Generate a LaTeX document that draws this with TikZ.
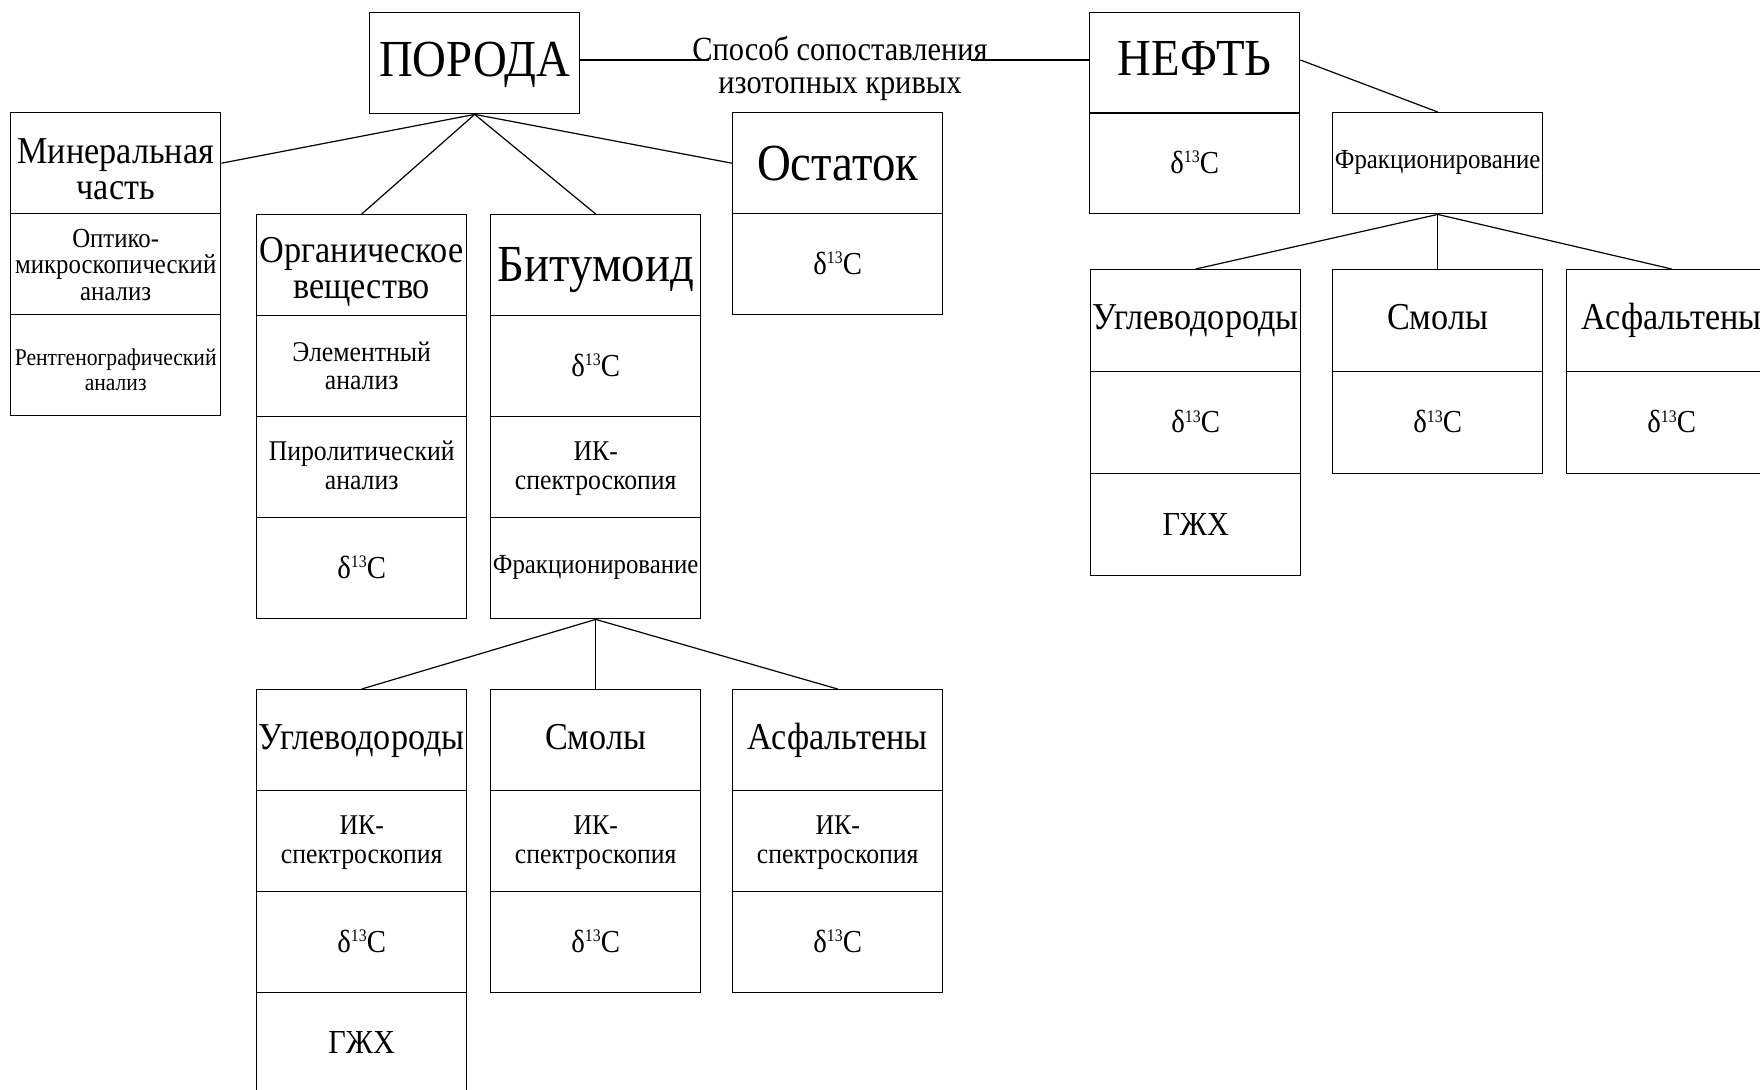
\documentclass[tikz,border=0pt]{standalone}
\usepackage{fontspec}
\setmainfont{Liberation Serif}[FakeStretch=0.9]
\newcommand\szA{\fontsize{26}{26}\selectfont}
\newcommand\szB{\fontsize{19}{18}\selectfont}
\newcommand\szC{\fontsize{16}{16}\selectfont}
\newcommand\szG{\fontsize{16.8}{16.8}\selectfont}
\newcommand\szD{\fontsize{13.8}{13.2}\selectfont}
\newcommand\szM{\fontsize{14.3}{14.3}\selectfont}
\newcommand\szE{\fontsize{12}{12.5}\selectfont}
\newcommand\szF{\fontsize{13.8}{13.8}\selectfont}
\newcommand\szL{\fontsize{16.9}{16.8}\selectfont}
% #1: distance of the first baseline below the cell centre
\newcommand\tx[2]{\rule[\dimexpr#1pt-10pt\relax]{0pt}{20pt}\smash{\begin{tabular}[t]{@{}c@{}}#2\end{tabular}}}
\newcommand\dC{\tx{5}{δ\raisebox{5.3pt}{\fontsize{8.8}{8.8}\selectfont 13}C}}
\begin{document}
\begin{tikzpicture}[x=0.5pt,y=-0.5pt,
  cell/.style={draw, line width=0.7pt, minimum width=105pt, minimum height=50.5pt,
    inner sep=0pt, align=center, anchor=north west},
  cellR/.style={cell, minimum height=51pt},
  conn/.style={line width=0.6pt},
  lab/.style={fill=white, inner ysep=0pt, inner xsep=-8.5pt, font=\szL}]
\clip (0,0) rectangle (1760,1089);
\fill[white] (0,0) rectangle (1760,1089);
% top
\node[cell,font=\szA] (poroda) at (369,12) {\tx{6.7}{ПОРОДА}};
\node[cell,font=\szA] (neft1) at (1089,12) {\tx{6.3}{НЕФТЬ}};
\node[cell,font=\szC] (neft2) at (1089,112) {\dC};
\node[cell,font=\szF] (frac) at (1332,112) {\tx{2.8}{Фракционирование}};
% mineral part
\node[cell,font=\szB] (min1) at (10,112) {\tx{0}{Минеральная\\часть}};
\node[cell,font=\szD] (min2) at (10,213) {\tx{-8.6}{Оптико-\\микроскопический\\анализ}};
\node[cell,font=\szE] (min3) at (10,314) {\tx{0}{Рентгенографический\\анализ}};
% organic matter
\node[cell,font=\szB] (org1) at (256,214) {\tx{-1.6}{Органическое\\вещество}};
\node[cell,font=\szM] (org2) at (256,315) {\tx{-2.6}{Элементный\\анализ}};
\node[cell,font=\szM] (org3) at (256,416) {\tx{-3.2}{Пиролитический\\анализ}};
\node[cell,font=\szC] (org4) at (256,517) {\dC};
% bitumoid
\node[cell,font=\szA] (bit1) at (490,214) {\tx{8}{Битумоид}};
\node[cell,font=\szC] (bit2) at (490,315) {\dC};
\node[cell,font=\szM] (bit3) at (490,416) {\tx{-3.3}{ИК-\\спектроскопия}};
\node[cell,font=\szF] (bit4) at (490,517) {\tx{2.8}{Фракционирование}};
% residue
\node[cell,font=\szA] (ost1) at (732,112) {\tx{8.5}{Остаток}};
\node[cell,font=\szC] (ost2) at (732,213) {\dC};
% oil fractions
\node[cellR,font=\szB] (ruv1) at (1090,269) {\tx{4.4}{Углеводороды}};
\node[cellR,font=\szC] (ruv2) at (1090,371) {\dC};
\node[cellR,font=\szG] (ruv3) at (1090,473) {\tx{5.3}{ГЖХ}};
\node[cellR,font=\szB] (rsm1) at (1332,269) {\tx{4.4}{Смолы}};
\node[cellR,font=\szC] (rsm2) at (1332,371) {\dC};
\node[cellR,font=\szB] (ras1) at (1566,269) {\tx{4.4}{Асфальтены}};
\node[cellR,font=\szC] (ras2) at (1566,371) {\dC};
% bitumoid fractions
\node[cell,font=\szB] (luv1) at (256,689) {\tx{4.4}{Углеводороды}};
\node[cell,font=\szM] (luv2) at (256,790) {\tx{-3.3}{ИК-\\спектроскопия}};
\node[cell,font=\szC] (luv3) at (256,891) {\dC};
\node[cell,font=\szG] (luv4) at (256,992) {\tx{5.3}{ГЖХ}};
\node[cell,font=\szB] (lsm1) at (490,689) {\tx{4.4}{Смолы}};
\node[cell,font=\szM] (lsm2) at (490,790) {\tx{-3.3}{ИК-\\спектроскопия}};
\node[cell,font=\szC] (lsm3) at (490,891) {\dC};
\node[cell,font=\szB] (las1) at (732,689) {\tx{4.4}{Асфальтены}};
\node[cell,font=\szM] (las2) at (732,790) {\tx{-3.3}{ИК-\\спектроскопия}};
\node[cell,font=\szC] (las3) at (732,891) {\dC};
% connectors
\draw[conn] (poroda.south) -- (min1.east);
\draw[conn] (poroda.south) -- (org1.north);
\draw[conn] (poroda.south) -- (bit1.north);
\draw[conn] (poroda.south) -- (ost1.west);
\draw[conn] ([yshift=1.6pt]poroda.east) -- ([yshift=1.6pt]neft1.west);
\node[lab] (cmp) at (840,60) {\tx{0}{Способ сопоставления\\изотопных кривых}};
\draw[conn] ([yshift=1.6pt]neft1.east) -- (frac.north);
\draw[conn] (frac.south) -- (ruv1.north);
\draw[conn] (frac.south) -- (rsm1.north);
\draw[conn] (frac.south) -- (ras1.north);
\draw[conn] (bit4.south) -- (luv1.north);
\draw[conn] (bit4.south) -- (lsm1.north);
\draw[conn] (bit4.south) -- (las1.north);
\end{tikzpicture}
\end{document}
